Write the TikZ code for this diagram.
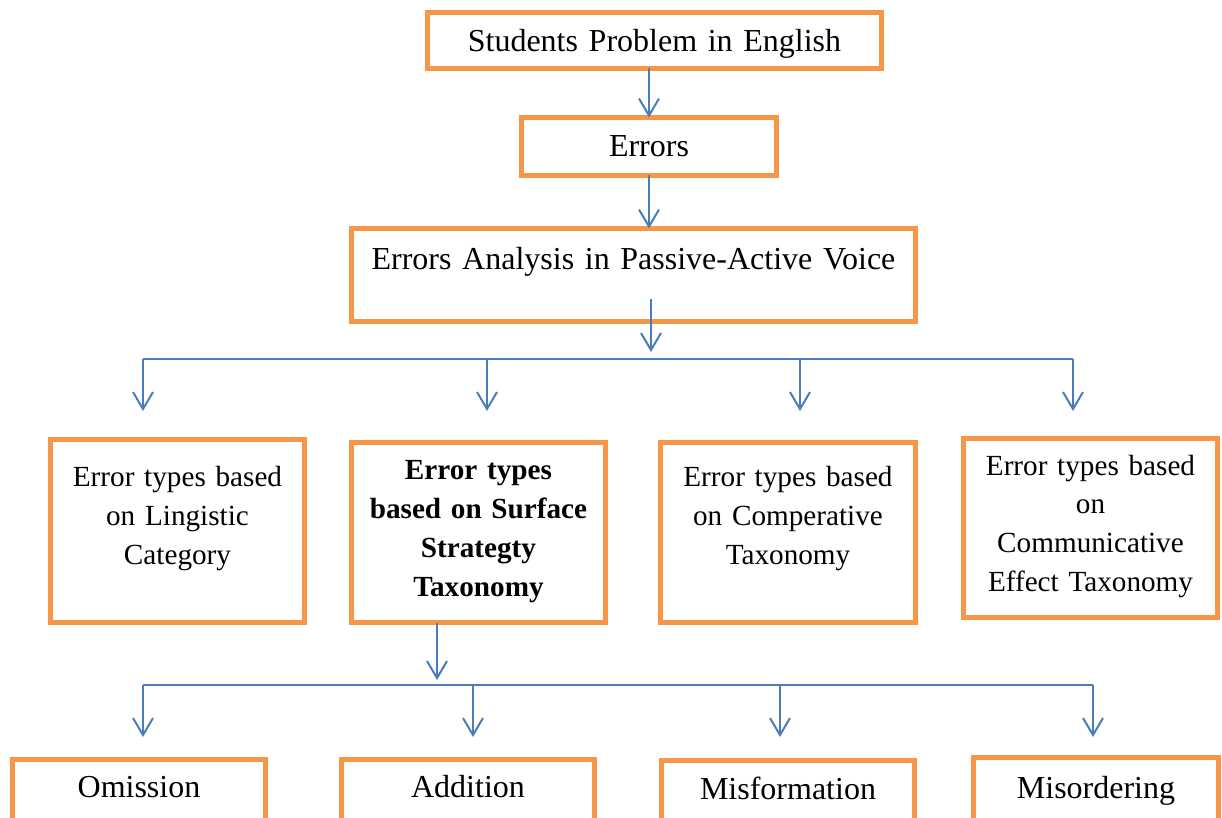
\documentclass[tikz,border=0pt]{standalone}
\usepackage{fontspec}
\setmainfont{Liberation Serif}
\usetikzlibrary{positioning}
\usetikzlibrary{arrows.meta}
\definecolor{boxorange}{HTML}{F79646}
\definecolor{lineblue}{HTML}{4A7EBB}

\begin{document}
\begin{tikzpicture}[x=0.5pt, y=-0.5pt]
    \tikzstyle{block} = [rectangle, draw=boxorange, line width=2.5pt, fill=white,
    inner sep=0pt, outer sep=0pt, align=center, anchor=north]
    \tikzstyle{bigtext} = [font=\fontsize{16}{19}\selectfont]
    \tikzstyle{smalltext} = [font=\fontsize{14.6}{19.4}\selectfont]
    \tikzstyle{line} = [draw=lineblue, line width=1pt, -{Straight Barb[length=8.5pt, width=10pt]}]
    \tikzstyle{wire} = [draw=lineblue, line width=1pt]
    \useasboundingbox (0,0) rectangle (1222,818);
    % top chain
    \node [block, bigtext, text width=227pt, text height=19.75pt, text depth=8.25pt] (problem) at (654.5,12.5) {Students Problem in English};
    \node [block, bigtext, text width=127.5pt, text height=19.75pt, text depth=9.25pt] (errors) at (649,117.5) {Errors};
    \node [block, bigtext, text width=282pt, text height=20.75pt, text depth=25.75pt] (analysis) at (633.5,228.5) {Errors Analysis in Passive-Active Voice};
    % error types
    \node [block, smalltext, text width=127pt, text height=23.5pt, text depth=68pt] (linguistic) at (177.5,439.5) {Error types based\\on Lingistic\\Category};
    \node [block, smalltext, text width=127pt, text height=18.75pt, text depth=71.25pt] (surface) at (478.5,442.5) {\bfseries Error types\\\bfseries based on Surface\\\bfseries Strategty\\\bfseries Taxonomy};
    \node [block, smalltext, text width=127.5pt, text height=22.25pt, text depth=67.75pt] (comparative) at (788,442.5) {Error types based\\on Comperative\\Taxonomy};
    \node [block, smalltext, text width=127pt, text height=18.25pt, text depth=71.25pt] (communicative) at (1090.5,438.5) {Error types based\\on\\Communicative\\Effect Taxonomy};
    % surface strategy types
    \node [block, bigtext, text width=126.5pt, text height=18.75pt, text depth=20pt] (omission) at (139,759.5) {Omission};
    \node [block, bigtext, text width=126.5pt, text height=18.75pt, text depth=20pt] (addition) at (468,759.5) {Addition};
    \node [block, bigtext, text width=126.5pt, text height=19.25pt, text depth=20pt] (misformation) at (788,760.5) {Misformation};
    \node [block, bigtext, text width=122.5pt, text height=20.25pt, text depth=20pt] (misordering) at (1096,757.5) {Misordering};
    % connectors
    \coordinate (hubA) at (651,352);
    \coordinate (busA) at (651,359);
    \coordinate (d1) at (143,411);
    \coordinate (d2) at (487,411);
    \coordinate (d3) at (800,411);
    \coordinate (d4) at (1073,411);
    \coordinate (hubB) at (437,680);
    \coordinate (busB) at (437,685);
    \coordinate (e1) at (143,737);
    \coordinate (e2) at (473,737);
    \coordinate (e3) at (780,737);
    \coordinate (e4) at (1093,737);
    \path [line] (problem.south -| errors.north) -- (errors.north);
    \path [line] (errors.south) -- (errors.south |- analysis.north);
    \path [line] (hubA |- analysis.south) ++(0,-22) -- (hubA);
    \path [wire] (d1 |- busA) -- (d4 |- busA);
    \path [line] (d1 |- busA) -- (d1);
    \path [line] (d2 |- busA) -- (d2);
    \path [line] (d3 |- busA) -- (d3);
    \path [line] (d4 |- busA) -- (d4);
    \path [line] (hubB |- surface.south) -- (hubB);
    \path [wire] (e1 |- busB) -- (e4 |- busB);
    \path [line] (e1 |- busB) -- (e1);
    \path [line] (e2 |- busB) -- (e2);
    \path [line] (e3 |- busB) -- (e3);
    \path [line] (e4 |- busB) -- (e4);
\end{tikzpicture}
\end{document}
